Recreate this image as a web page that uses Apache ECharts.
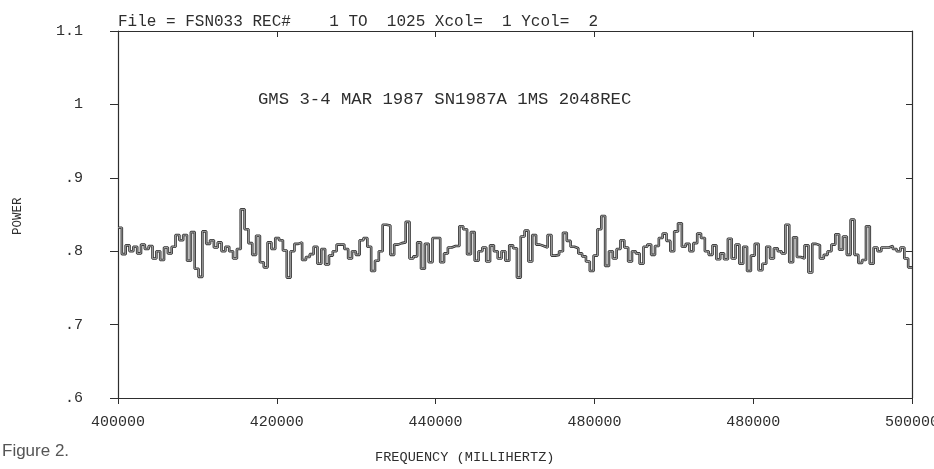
<!DOCTYPE html>
<html>
<head>
<meta charset="utf-8">
<style>
  html, body { margin: 0; padding: 0; background: #ffffff; overflow: hidden; }
  #chart { width: 934px; height: 469px; }
</style>
<script src="https://cdn.jsdelivr.net/npm/echarts@6/dist/echarts.min.js"></script>
</head>
<body>
<div id="chart"></div>
<script>
// Power spectrum bins, 400000 - 500000 mHz
const power = [
  0.832, 0.796, 0.808, 0.800, 0.806, 0.797, 0.809, 0.803, 0.807, 0.790,
  0.800, 0.788, 0.805, 0.797, 0.806, 0.822, 0.815, 0.822, 0.787, 0.826,
  0.776, 0.765, 0.827, 0.810, 0.815, 0.805, 0.812, 0.800,
  0.806, 0.800, 0.790, 0.803, 0.857, 0.830, 0.811, 0.795, 0.821, 0.785,
  0.778, 0.812, 0.803, 0.818, 0.815, 0.801, 0.764, 0.800, 0.810, 0.812,
  0.788, 0.792, 0.796, 0.806, 0.783, 0.803, 0.782, 0.794, 0.800, 0.809,
  0.809, 0.803, 0.790, 0.800, 0.795, 0.815,
  0.818, 0.806, 0.773, 0.787, 0.800, 0.836, 0.835, 0.795, 0.809, 0.811,
  0.812, 0.840, 0.790, 0.793, 0.812, 0.776, 0.810, 0.785, 0.818, 0.818,
  0.785, 0.797, 0.805, 0.807, 0.807, 0.834, 0.830, 0.796, 0.826, 0.787,
  0.800, 0.805, 0.786, 0.808, 0.800, 0.790,
  0.800, 0.787, 0.808, 0.804, 0.764, 0.820, 0.828, 0.786, 0.822, 0.809,
  0.807, 0.805, 0.822, 0.794, 0.795, 0.800, 0.825, 0.814, 0.806, 0.804,
  0.797, 0.793, 0.786, 0.773, 0.794, 0.830, 0.848, 0.780, 0.800, 0.790,
  0.803, 0.815, 0.805, 0.786, 0.800, 0.797,
  0.783, 0.806, 0.809, 0.795, 0.807, 0.818, 0.824, 0.814, 0.800, 0.827,
  0.838, 0.806, 0.810, 0.800, 0.811, 0.824, 0.818, 0.800, 0.795, 0.808,
  0.789, 0.797, 0.789, 0.817, 0.790, 0.809, 0.783, 0.806, 0.773, 0.794,
  0.810, 0.774, 0.783, 0.806, 0.790, 0.804,
  0.800, 0.797, 0.836, 0.785, 0.819, 0.792, 0.790, 0.808, 0.771, 0.810,
  0.808, 0.790, 0.795, 0.800, 0.809, 0.823, 0.802, 0.820, 0.795, 0.843,
  0.795, 0.784, 0.788, 0.834, 0.783, 0.805, 0.800, 0.805, 0.805, 0.807,
  0.803, 0.800, 0.805, 0.790, 0.778
];

const freqMin = 400000;
const freqMax = 500000;
const xTickLabels = ['400000', '420000', '440000', '480000', '480000', '500000'];
const yTickLabels = ['.6', '.7', '.8', '.9', '1', '1.1'];

const headerText = 'File = FSN033 REC#    1 TO  1025 Xcol=  1 Ycol=  2';
const noteText = 'GMS 3-4 MAR 1987 SN1987A 1MS 2048REC';
const xName = 'FREQUENCY (MILLIHERTZ)';
const yName = 'POWER';
const caption = 'Figure 2.';

// Each bin spans an equal slice of the frequency range; the last bin is closed at freqMax.
const binWidth = (freqMax - freqMin) / power.length;
const stepData = power.map((v, i) => [freqMin + i * binWidth, v]);
stepData.push([freqMax, power[power.length - 1]]);

const ink = '#2e2e2e';
const mono = '"Liberation Mono", "DejaVu Sans Mono", monospace';

const chart = echarts.init(document.getElementById('chart'), null, { renderer: 'canvas' });

const tickLabelFor = (labels, min, step) => (v) => {
  const idx = Math.round((v - min) / step);
  return labels[idx] !== undefined ? labels[idx] : '';
};

chart.setOption({
  backgroundColor: '#ffffff',
  animation: false,
  grid: {
    left: 118, right: 22, top: 31, bottom: 71,
    containLabel: false, outerBoundsMode: 'none'
  },
  xAxis: [
    {
      type: 'value', position: 'bottom', min: freqMin, max: freqMax, interval: 20000,
      axisLine: { show: true, lineStyle: { color: ink, width: 1.2 } },
      axisTick: { show: true, inside: false, length: 6, lineStyle: { color: ink } },
      splitLine: { show: false },
      axisLabel: {
        margin: 17, color: ink, fontFamily: mono, fontSize: 15,
        formatter: tickLabelFor(xTickLabels, freqMin, 20000)
      }
    },
    {
      type: 'value', position: 'top', min: freqMin, max: freqMax, interval: 20000,
      axisLine: { show: true, lineStyle: { color: ink, width: 1.2 } },
      axisTick: { show: true, inside: true, length: 6, lineStyle: { color: ink } },
      axisLabel: { show: false },
      splitLine: { show: false }
    }
  ],
  yAxis: [
    {
      type: 'value', position: 'left', min: 0.6, max: 1.1, interval: 0.1,
      axisLine: { show: true, lineStyle: { color: ink, width: 1.2 } },
      axisTick: { show: true, inside: false, length: 8, lineStyle: { color: ink } },
      splitLine: { show: false },
      axisLabel: {
        margin: 35, color: ink, fontFamily: mono, fontSize: 15,
        formatter: tickLabelFor(yTickLabels, 0.6, 0.1)
      }
    },
    {
      type: 'value', position: 'right', min: 0.6, max: 1.1, interval: 0.1,
      axisLine: { show: true, lineStyle: { color: ink, width: 1.2 } },
      axisTick: { show: true, inside: true, length: 6, lineStyle: { color: ink } },
      axisLabel: { show: false },
      splitLine: { show: false }
    }
  ],
  series: [
    {
      // dark outer stroke of the plotter trace
      type: 'line', xAxisIndex: 0, yAxisIndex: 0, step: 'end',
      data: stepData, symbol: 'none', silent: true,
      lineStyle: { color: '#303030', width: 2.6 }
    },
    {
      // pale core gives the doubled pen look
      type: 'line', xAxisIndex: 0, yAxisIndex: 0, step: 'end',
      data: stepData, symbol: 'none', silent: true,
      lineStyle: { color: '#cfcfcf', width: 0.7 }
    }
  ],
  graphic: [
    {
      type: 'text', left: 118, top: 14,
      style: { text: headerText, font: '16px ' + mono, fill: ink }
    },
    {
      type: 'text', left: 258, top: 91,
      style: { text: noteText, font: '17.3px ' + mono, fill: ink }
    },
    {
      type: 'text', left: 375, top: 450,
      style: { text: xName, font: '13.6px ' + mono, fill: ink }
    },
    {
      type: 'text', x: 11, y: 235, rotation: Math.PI / 2,
      style: { text: yName, font: '12.5px ' + mono, fill: ink }
    },
    {
      type: 'text', left: 2, top: 443,
      style: { text: caption, font: '17px "Liberation Sans", Arial, sans-serif', fill: '#555555' }
    }
  ]
});
</script>
</body>
</html>
